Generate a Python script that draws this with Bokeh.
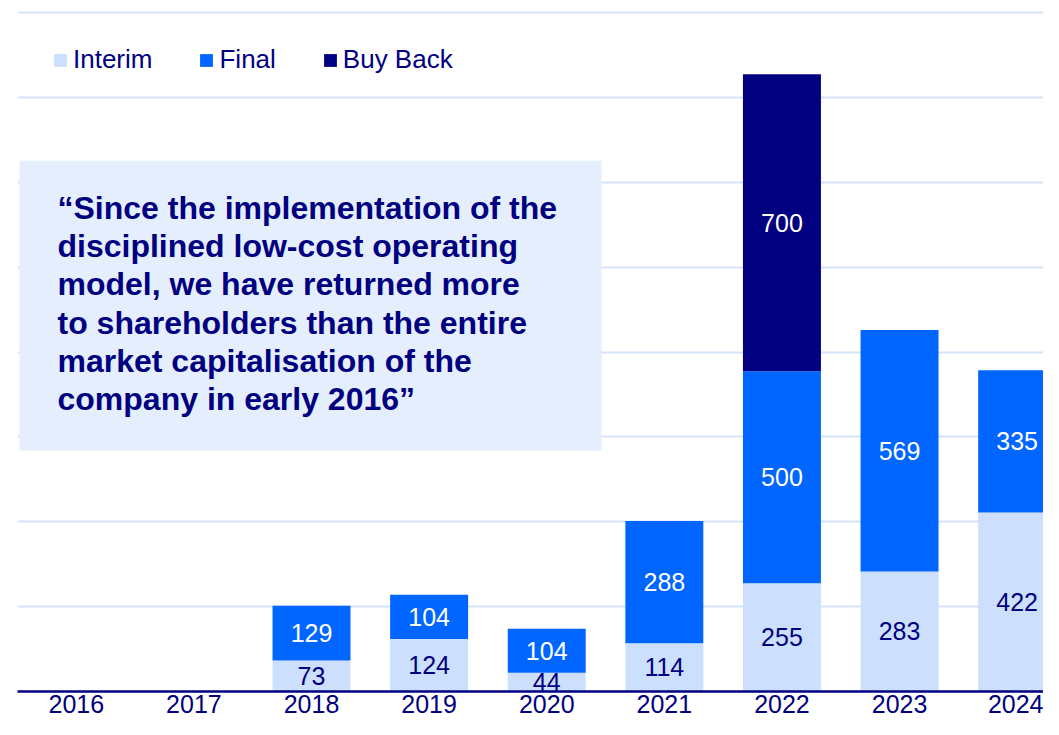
from bokeh.plotting import figure
from bokeh.models import (ColumnDataSource, Range1d, FixedTicker, Grid, BoxAnnotation, Label)
from bokeh.core.properties import value
from bokeh.embed import file_html
from bokeh.resources import INLINE

years = ["2016", "2017", "2018", "2019", "2020", "2021", "2022", "2023", "2024"]
interim = [0, 0, 73, 124, 44, 114, 255, 283, 422]
final = [0, 0, 129, 104, 104, 288, 500, 569, 335]
buyback = [0, 0, 0, 0, 0, 0, 700, 0, 0]
series = ["Interim", "Final", "Buy Back"]
colors = ["#CCE0FD", "#0066FF", "#000080"]
label_colors = ["#000080", "white", "white"]
quote_lines = [
    "\u201cSince the implementation of the",
    "disciplined low-cost operating",
    "model, we have returned more",
    "to shareholders than the entire",
    "market capitalisation of the",
    "company in early 2016\u201d",
]
grid_ticks = [200, 400, 600, 800, 1000, 1200, 1400, 1600]

NAVY = "#000080"
FONT = "Liberation Sans"

xs = list(range(len(years)))
data = {"x": xs, "Interim": interim, "Final": final, "Buy Back": buyback}
src = ColumnDataSource(data)

p = figure(width=1043, height=719, output_backend="svg", toolbar_location=None,
           x_range=Range1d(-0.5, 8.224), y_range=Range1d(0, 1628.7),
           y_axis_location=None, min_border_left=17, min_border_right=0,
           min_border_top=0, min_border_bottom=28)
p.outline_line_color = None
p.xgrid.visible = False
p.ygrid.visible = False

g = Grid(dimension=1, ticker=FixedTicker(ticks=grid_ticks),
         grid_line_color="#D3E4FA", grid_line_width=2)
p.add_layout(g)

rs = p.vbar_stack(series, x="x", width=0.663, source=src, color=colors,
                  line_color=None, legend_label=series)

# segment labels
base = [0] * len(years)
for name, vals, lc in zip(series, [interim, final, buyback], label_colors):
    lx, ly, lt = [], [], []
    for i, v in enumerate(vals):
        if v > 0:
            lx.append(xs[i]); ly.append(base[i] + v / 2.0); lt.append(str(v))
        base[i] += v
    p.text(x=lx, y=ly, text=lt, text_align="center", text_baseline="middle",
           text_color=lc, text_font=value(FONT), text_font_size="25px")

ax = p.xaxis[0]
ax.ticker = FixedTicker(ticks=xs)
ax.major_label_overrides = {i: y for i, y in enumerate(years)}
ax.axis_line_color = NAVY
ax.axis_line_width = 2.5
ax.major_tick_line_color = None
ax.minor_tick_line_color = None
ax.major_tick_in = 0
ax.major_tick_out = 0
ax.major_label_standoff = 3
ax.major_label_text_font = FONT
ax.major_label_text_font_size = "25px"
ax.major_label_text_color = NAVY

# quote box
box = BoxAnnotation(left=-0.483, right=4.466, bottom=568, top=1251,
                    fill_color="#E4EEFC", fill_alpha=1.0, line_color=None)
p.add_layout(box)
for k, line in enumerate(quote_lines):
    p.add_layout(Label(x=40, y=691 - (207.5 + 38.2 * k), x_units="screen", y_units="screen",
                       text=line, text_font=FONT, text_font_size="32px",
                       text_font_style="bold", text_color=NAVY,
                       text_baseline="alphabetic"))

lg = p.legend[0]
lg.orientation = "horizontal"
lg.location = (35, 616)
lg.background_fill_alpha = 0
lg.border_line_color = None
lg.padding = 0
lg.margin = 0
lg.spacing = 46
lg.glyph_width = 16
lg.glyph_height = 16
lg.label_standoff = 5
lg.label_text_font = FONT
lg.label_text_font_size = "26px"
lg.label_text_color = NAVY

open("out.html", "w").write(file_html(p, INLINE))
